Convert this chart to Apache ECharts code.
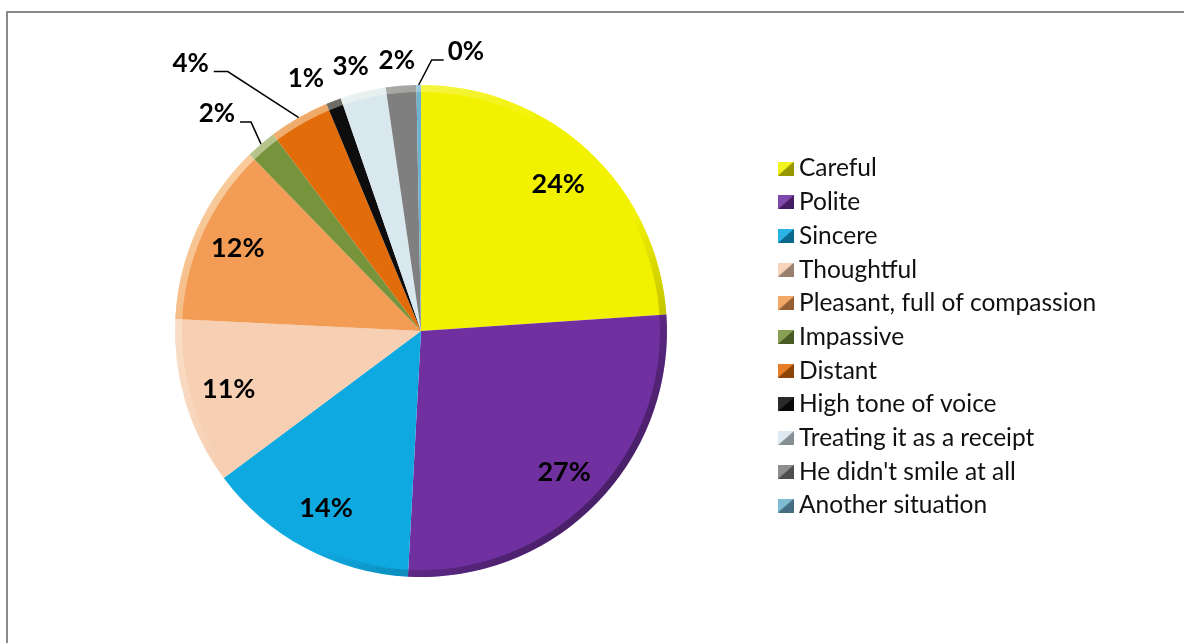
<!DOCTYPE html>
<html>
<head>
<meta charset="utf-8">
<script src="https://cdn.jsdelivr.net/npm/echarts@6/dist/echarts.min.js"></script>
<style>
  html, body { margin: 0; padding: 0; background: #ffffff; }
  #chart { width: 1184px; height: 643px; }
</style>
</head>
<body>
<div id="chart"></div>
<script>
// Survey answers: how the staff member came across
const categories = [
  'Careful', 'Polite', 'Sincere', 'Thoughtful', 'Pleasant, full of compassion',
  'Impassive', 'Distant', 'High tone of voice', 'Treating it as a receipt',
  "He didn't smile at all", 'Another situation'
];
// Share of respondents, in percent
const shares = [24, 27, 14, 11, 12, 2, 4, 1, 3, 2, 0.3];

const palette = [
  '#f2f200', '#7030a0', '#0fa9e2', '#f7cfb2', '#f29c55',
  '#77933c', '#e36c0a', '#0d0d0d', '#d9e8ef', '#7f7f7f', '#6fb2cf'
];

const FONT = 'Lato';
const CENTER = [421, 331];
const R = 246;

// Slices wide enough to carry their label inside
const insideIdx = [0, 1, 2, 3, 4];
// Outside labels on the narrow slices (length, length2, line visible)
const outsideCfg = {
  5: { len: 28, len2: 4, line: true },
  6: { len: 60, len2: 54, line: true },
  7: { len: 24, len2: -4, line: false },
  8: { len: 26, len2: -17, line: false },
  9: { len: 25, len2: -21, line: false },
  10: { len: 10, len2: 10, line: true }
};
// Elbow leader lines, relative to the point where the line leaves the slice:
// [elbow dx, elbow dy, tail length, text side]
const elbows = {
  5: [-10, -22, -11, 'right'],
  6: [-71, -46, -14, 'right'],
  10: [13, -25, 12, 'left']
};

function pct(v) { return Math.round(v) + '%'; }

// Small bevelled square used as legend key
function bevelIcon(hex) {
  const c = document.createElement('canvas');
  c.width = 16; c.height = 14;
  const g = c.getContext('2d');
  g.fillStyle = hex;
  g.fillRect(0, 0, 16, 14);
  g.fillStyle = 'rgba(0,0,0,0.38)';
  g.beginPath(); g.moveTo(16, 0); g.lineTo(16, 14); g.lineTo(0, 14); g.closePath(); g.fill();
  g.fillStyle = 'rgba(255,255,255,0.12)';
  g.beginPath(); g.moveTo(0, 0); g.lineTo(16, 0); g.lineTo(0, 14); g.closePath(); g.fill();
  return 'image://' + c.toDataURL();
}

const mainData = categories.map((name, i) => {
  const item = { name: name, value: shares[i], itemStyle: { color: palette[i] } };
  const cfg = outsideCfg[i];
  if (cfg) {
    item.label = { show: true, position: 'outside' };
    item.labelLine = { show: cfg.line, length: cfg.len, length2: cfg.len2 };
  } else {
    item.label = { show: false };
    item.labelLine = { show: false };
  }
  return item;
});

const innerLabelData = categories.map((name, i) => ({
  name: name,
  value: shares[i],
  label: { show: insideIdx.indexOf(i) >= 0 }
}));

const chart = echarts.init(document.getElementById('chart'), null, { renderer: 'canvas' });

chart.setOption({
  animation: false,
  backgroundColor: '#ffffff',
  graphic: [{
    type: 'rect',
    shape: { x: 7, y: 12, width: 1400, height: 900 },
    style: { fill: 'none', stroke: '#8a8a8a', lineWidth: 2 },
    silent: true,
    z: -10
  }],
  legend: {
    orient: 'vertical',
    left: 773,
    top: 151,
    itemWidth: 16,
    itemHeight: 14,
    itemGap: 8.7,
    itemTextGap: 3,
    selectedMode: false,
    data: categories.map((n, i) => ({ name: n, icon: bevelIcon(palette[i]) })),
    textStyle: { fontFamily: FONT, fontSize: 24.5, lineHeight: 24, color: '#111' }
  },
  series: [
    {
      type: 'pie',
      center: CENTER,
      radius: [0, R],
      startAngle: 90,
      clockwise: true,
      avoidLabelOverlap: false,
      silent: true,
      data: mainData,
      itemStyle: { borderWidth: 0 },
      label: {
        formatter: p => pct(p.value),
        fontFamily: FONT, fontSize: 26, fontWeight: 'bold', color: '#000',
        distanceToLabelLine: 5
      },
      labelLine: { lineStyle: { color: '#000', width: 1.5 }, smooth: false },
      labelLayout: function (p) {
        const e = elbows[p.dataIndex];
        if (!e || !p.labelLinePoints) return;
        const a = p.labelLinePoints[0];
        const b = [a[0] + e[0], a[1] + e[1]];
        const c = [b[0] + e[2], b[1]];
        const gap = e[3] === 'left' ? 4 : -5;
        return {
          x: c[0] + gap, y: c[1] - 8, align: e[3], verticalAlign: 'middle',
          labelLinePoints: [a, b, c]
        };
      },
      z: 2
    },
    {
      // bevel rim: light on the upper left, dark toward the lower right
      type: 'pie',
      center: CENTER,
      radius: [R - 7, R],
      silent: true,
      label: { show: false },
      labelLine: { show: false },
      data: [{
        value: 1, name: 'rim',
        itemStyle: {
          color: {
            type: 'linear', x: 0, y: 0.2, x2: 0.85, y2: 1,
            colorStops: [
              { offset: 0, color: 'rgba(255,255,230,0.55)' },
              { offset: 0.4, color: 'rgba(255,255,255,0)' },
              { offset: 0.62, color: 'rgba(0,0,0,0)' },
              { offset: 1, color: 'rgba(0,0,0,0.45)' }
            ]
          }
        }
      }],
      z: 3
    },
    {
      // labels for the wide slices, set further out than the sector middle
      type: 'pie',
      center: CENTER,
      radius: [150, R],
      startAngle: 90,
      clockwise: true,
      silent: true,
      avoidLabelOverlap: false,
      itemStyle: { color: 'rgba(0,0,0,0)' },
      label: {
        position: 'inside',
        formatter: p => pct(p.value),
        fontFamily: FONT, fontSize: 27, fontWeight: 'bold', color: '#000'
      },
      labelLine: { show: false },
      data: innerLabelData,
      z: 4
    }
  ]
});
</script>
</body>
</html>
